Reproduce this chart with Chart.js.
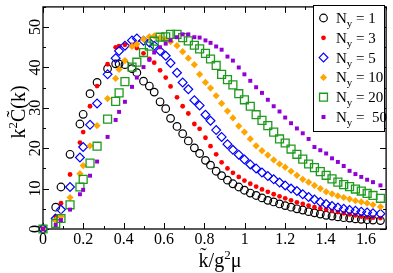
<!DOCTYPE html>
<html>
<head>
<meta charset="utf-8">
<script src="https://cdn.jsdelivr.net/npm/chart.js@4/dist/chart.umd.min.js"></script>
<style>
  html, body { margin: 0; padding: 0; background: #fff; }
  canvas { display: block; }
</style>
</head>
<body>
<canvas id="corrChart" width="393" height="273"></canvas>
<script>
    "use strict";

    // momentum values (shared by every N_y set)
    var kValues = [0, 0.063, 0.089, 0.134, 0.183, 0.199, 0.233, 0.268, 0.32, 0.36, 0.377, 0.406,
        0.441, 0.465, 0.498, 0.527, 0.551, 0.58, 0.608, 0.632, 0.664, 0.692, 0.72, 0.75, 0.776,
        0.805, 0.83, 0.858, 0.885, 0.914, 0.941, 0.97, 0.998, 1.027, 1.056, 1.085, 1.114, 1.143,
        1.172, 1.2, 1.229, 1.258, 1.287, 1.316, 1.345, 1.374, 1.403, 1.432, 1.461, 1.49, 1.519,
        1.548, 1.577, 1.606, 1.635, 1.672];

    var cNy1 = [0, 5.4, 10.4, 18.5, 26, 28.4, 33.5, 36.3, 39.7, 40.9, 40.9, 40.7,
        39.7, 38.7, 36.6, 35.4, 33.9, 31.5, 29.8, 27.4, 25.4, 23.6, 21.8, 20.1, 18.7,
        17.0, 15.8, 14.3, 13.2, 12.1, 11.2, 10.4, 9.6, 8.9, 8.3, 7.7, 7.1, 6.7,
        6.2, 5.8, 5.4, 5.0, 4.7, 4.3, 4.0, 3.7, 3.4, 3.2, 3.0, 2.8, 2.7,
        2.5, 2.4, 2.3, 2.2, 2.1];

    var cNy3 = [0, 3.1, 6.4, 13.5, 21.4, 24, 30.4, 35.4, 40.8, 45, 45.3, 45.6,
        45.6, 44.8, 43.5, 42.1, 41.2, 39.3, 37.5, 35.3, 32.6, 30.4, 28.6, 26.0, 24.8,
        22.6, 20.5, 18.5, 16.5, 15.0, 13.9, 12.9, 12.0, 11.2, 10.5, 9.8, 9.2, 8.6,
        8.1, 7.6, 7.1, 6.6, 6.2, 5.8, 5.4, 5.1, 4.8, 4.5, 4.2, 3.9, 3.6,
        3.4, 3.1, 2.9, 2.8, 2.7];

    var cNy5 = [0, 2.6, 4.8, 10.4, 17.7, 20.3, 25.8, 31.1, 38.3, 42.3, 44.1, 45.4,
        46.7, 47.2, 46.6, 46.2, 45.4, 44.1, 42.9, 41.1, 38.7, 36.3, 34.6, 31.9, 30.6,
        28.3, 26.8, 24.5, 22.8, 21.0, 19.6, 18.4, 17.2, 16.0, 15.0, 14.0, 13.1, 12.3,
        11.5, 10.8, 10.0, 9.4, 8.6, 7.9, 7.3, 6.7, 6.2, 5.7, 5.3, 5.0, 4.7,
        4.5, 4.3, 4.1, 3.9, 3.8];

    var cNy10 = [0, 2.2, 3.1, 7.8, 13.7, 15.7, 20.6, 25.6, 32.3, 37.3, 39.5, 41.7,
        45.2, 45.8, 47.0, 47.6, 47.8, 47.4, 46.9, 46.4, 45.4, 43.9, 42.3, 40.7, 38.3,
        36.3, 34.9, 33.0, 31.1, 29.2, 27.5, 25.5, 24.0, 22.3, 20.6, 19.4, 18.3, 17.1,
        16.1, 15.3, 14.3, 13.3, 12.3, 11.6, 10.8, 10.0, 9.2, 8.7, 8.2, 7.8, 7.4,
        7.0, 6.7, 6.4, 6.0, 5.5];

    var cNy20 = [0, 1.4, 2.6, 6.0, 10.4, 12.3, 16.3, 20.5, 27.2, 31.6, 33.7, 36.5,
        40.1, 41.3, 43.7, 45.3, 46.5, 47.5, 47.6, 48.2, 48.2, 47.4, 46.6, 45.5, 44.6,
        43.5, 42.1, 40.5, 38.3, 37.0, 35.7, 33.5, 32.0, 30.4, 28.3, 26.9, 25.6, 24.0,
        22.3, 21.3, 19.8, 18.5, 17.3, 16.1, 15.2, 14.2, 13.3, 12.4, 11.6, 11.0, 10.5,
        9.9, 9.4, 8.8, 8.3, 7.6];

    var cNy50 = [0, 1.0, 2.2, 4.8, 8.6, 9.7, 13.2, 16.7, 22.8, 27.0, 29.0, 31.5,
        35.2, 37.5, 40.1, 41.9, 43.7, 45.0, 45.9, 46.7, 47.5, 48.2, 48.2, 47.5, 47.4,
        46.7, 46.1, 45.2, 44.4, 42.7, 41.7, 40.0, 38.3, 36.7, 35.1, 33.7, 32.0, 30.4,
        29.1, 27.6, 26.2, 24.9, 23.7, 22.3, 20.3, 19.5, 18.7, 17.5, 16.6, 15.6, 14.4,
        13.6, 12.9, 12.2, 11.6, 10.8];

    var nyLabels = ['1', '3', '5', '10', '20', ' 50'];
    var xTicks = [0, 0.2, 0.4, 0.6, 0.8, 1, 1.2, 1.4, 1.6];
    var xTickLabels = ['0', '0.2', '0.4', '0.6', '0.8', '1', '1.2', '1.4', '1.6'];
    var yTicks = [0, 10, 20, 30, 40, 50];
    var yTickLabels = ['0', '10', '20', '30', '40', '50'];

    var SERIF = '"Liberation Serif", "DejaVu Serif", serif';

    function toPoints(values) {
        return kValues.map(function (k, i) { return { x: k, y: values[i] }; });
    }

    var styles = [
        { pointStyle: 'circle', radius: 3.8, borderColor: '#000000', backgroundColor: 'rgba(0,0,0,0)', borderWidth: 1.2 },
        { pointStyle: 'circle', radius: 2.4, borderColor: '#ff0000', backgroundColor: '#ff0000', borderWidth: 0 },
        { pointStyle: 'rectRot', radius: 4.4, borderColor: '#0000ff', backgroundColor: 'rgba(0,0,0,0)', borderWidth: 1.2 },
        { pointStyle: 'rectRot', radius: 3.6, borderColor: '#ffa500', backgroundColor: '#ffa500', borderWidth: 0 },
        { pointStyle: 'rect', radius: 5.6, borderColor: '#1e9a1e', backgroundColor: 'rgba(0,0,0,0)', borderWidth: 1.3 },
        { pointStyle: 'rect', radius: 2.8, borderColor: '#9400d3', backgroundColor: '#9400d3', borderWidth: 0 }
    ];

    var allValues = [cNy1, cNy3, cNy5, cNy10, cNy20, cNy50];

    var datasets = allValues.map(function (vals, i) {
        var s = styles[i];
        return {
            label: 'Ny = ' + nyLabels[i],
            data: toPoints(vals),
            showLine: false,
            clip: false,
            order: allValues.length - i,
            pointStyle: s.pointStyle,
            pointRadius: s.radius,
            pointBorderColor: s.borderColor,
            pointBackgroundColor: s.backgroundColor,
            pointBorderWidth: s.borderWidth
        };
    });

    // draw text pieces (normal / superscript) one after the other, centred on x
    function drawPieces(ctx, pieces, cx, baseY) {
        var total = 0;
        pieces.forEach(function (p) {
            ctx.font = p.size + 'px ' + SERIF;
            p.w = ctx.measureText(p.text).width;
            total += p.w;
        });
        var x = cx - total / 2;
        ctx.textAlign = 'left';
        ctx.textBaseline = 'alphabetic';
        pieces.forEach(function (p) {
            ctx.font = p.size + 'px ' + SERIF;
            ctx.fillText(p.text, x, baseY + (p.dy || 0));
            x += p.w;
        });
    }

    function drawMarker(ctx, s, x, y) {
        ctx.save();
        ctx.fillStyle = s.backgroundColor;
        ctx.strokeStyle = s.borderColor;
        ctx.lineWidth = s.borderWidth;
        if (Chart.helpers && Chart.helpers.drawPoint) {
            Chart.helpers.drawPoint(ctx, { pointStyle: s.pointStyle, radius: s.radius, rotation: 0, borderWidth: s.borderWidth }, x, y);
        }
        ctx.restore();
    }

    var framePlugin = {
        id: 'framePlugin',
        beforeDatasetsDraw: function (chart) {
            var ctx = chart.ctx;
            var a = chart.chartArea;
            var xs = chart.scales.x;
            var ys = chart.scales.y;
            ctx.save();
            ctx.strokeStyle = '#000';
            ctx.lineWidth = 1;
            var v, px, len;
            // x ticks (bottom + top), inward
            for (v = 0; v <= 17; v++) {
                px = Math.round(xs.getPixelForValue(v / 10)) + 0.5;
                len = (v % 2 === 0) ? 6 : 3;
                ctx.beginPath();
                ctx.moveTo(px, a.bottom); ctx.lineTo(px, a.bottom - len);
                ctx.moveTo(px, a.top); ctx.lineTo(px, a.top + len);
                ctx.stroke();
            }
            // y ticks (left + right), inward
            for (v = 0; v <= 55; v += 5) {
                px = Math.round(ys.getPixelForValue(v)) + 0.5;
                len = (v % 10 === 0) ? 6 : 3;
                ctx.beginPath();
                ctx.moveTo(a.left, px); ctx.lineTo(a.left + len, px);
                ctx.moveTo(a.right, px); ctx.lineTo(a.right - len, px);
                ctx.stroke();
            }
            ctx.lineWidth = 1.3;
            ctx.strokeRect(a.left, a.top, a.right - a.left, a.bottom - a.top);
            ctx.restore();
        },
        afterDatasetsDraw: function (chart) {
            var ctx = chart.ctx;
            var a = chart.chartArea;
            var xs = chart.scales.x;
            var ys = chart.scales.y;
            ctx.save();
            ctx.fillStyle = '#000';

            // tick labels
            ctx.font = '16px ' + SERIF;
            ctx.textAlign = 'center';
            ctx.textBaseline = 'middle';
            xTicks.forEach(function (t, i) {
                ctx.fillText(xTickLabels[i], xs.getPixelForValue(t), a.bottom + 11);
            });
            yTicks.forEach(function (t, i) {
                ctx.save();
                ctx.translate(a.left - 7, ys.getPixelForValue(t));
                ctx.rotate(-Math.PI / 2);
                ctx.fillText(yTickLabels[i], 0, 0);
                ctx.restore();
            });

            // axis titles
            drawPieces(ctx, [
                { text: 'k\u0303/g', size: 20 },
                { text: '2', size: 13, dy: -8 },
                { text: '\u03bc', size: 20 }
            ], 220, 267);

            ctx.save();
            ctx.translate(25, 112);
            ctx.rotate(-Math.PI / 2);
            drawPieces(ctx, [
                { text: 'k', size: 20 },
                { text: '2', size: 13, dy: -8 },
                { text: 'C\u0303(k)', size: 20 }
            ], 0, 0);
            ctx.restore();

            // legend box
            var bx = 313.5, by = 5.5, bw = 71, bh = 126;
            ctx.fillStyle = '#fff';
            ctx.fillRect(bx, by, bw, bh);
            ctx.strokeStyle = '#000';
            ctx.lineWidth = 1;
            ctx.strokeRect(bx, by, bw, bh);
            ctx.fillStyle = '#000';
            styles.forEach(function (s, i) {
                var rowY = 18 + i * 19.8;
                drawMarker(ctx, s, 323.5, rowY);
                ctx.fillStyle = '#000';
                ctx.textAlign = 'left';
                ctx.textBaseline = 'alphabetic';
                var x0 = 336;
                ctx.font = '15px ' + SERIF;
                ctx.fillText('N', x0, rowY + 5);
                var wN = ctx.measureText('N').width;
                ctx.font = '11px ' + SERIF;
                ctx.fillText('y', x0 + wN, rowY + 9);
                var wy = ctx.measureText('y').width;
                ctx.font = '15px ' + SERIF;
                ctx.fillText(' = ' + nyLabels[i], x0 + wN + wy, rowY + 5);
            });
            ctx.restore();
        }
    };

    var ctx = document.getElementById('corrChart').getContext('2d');
    new Chart(ctx, {
        type: 'scatter',
        data: { datasets: datasets },
        options: {
            responsive: false,
            animation: false,
            devicePixelRatio: 1,
            layout: { padding: { left: 43, top: 2, right: 1, bottom: 44 } },
            plugins: {
                legend: { display: false },
                tooltip: { enabled: false }
            },
            scales: {
                x: { type: 'linear', min: 0, max: 1.7, display: false },
                y: { type: 'linear', min: 0, max: 55, display: false }
            }
        },
        plugins: [framePlugin]
    });
</script>
</body>
</html>
